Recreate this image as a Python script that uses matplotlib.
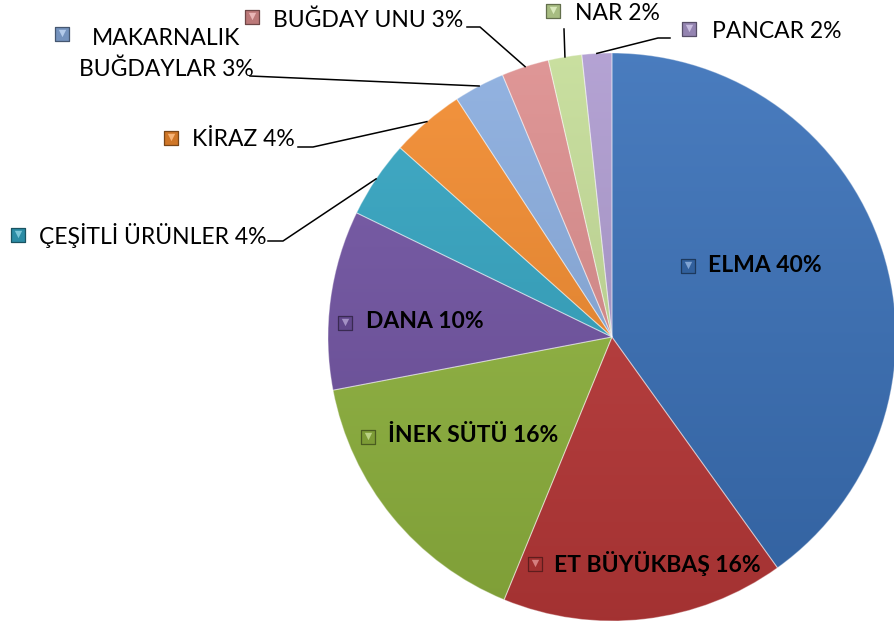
import numpy as np
import matplotlib
matplotlib.use("Agg")
import matplotlib.pyplot as plt
from matplotlib.colors import to_rgb

categories = ["ELMA", "ET BÜYÜKBAŞ", "İNEK SÜTÜ", "DANA", "ÇEŞİTLİ ÜRÜNLER",
              "KİRAZ", "MAKARNALIK\nBUĞDAYLAR", "BUĞDAY UNU", "NAR", "PANCAR"]
values = [40.1, 16.1, 15.8, 10.2, 4.4, 4.2, 2.9, 2.7, 1.9, 1.7]
colors = ["#3A71B9", "#BE3A3A", "#93B840", "#7254A4", "#33A5C2",
          "#F38B2E", "#8AADDF", "#DD8E8E", "#C5DD98", "#AE9BD0"]

W, H = 895, 631
fig = plt.figure(figsize=(W / 100, H / 100), dpi=100)
ax = fig.add_axes([0, 0, 1, 1])

cx, cy, R = 612, H - 337, 284
wedges, _ = ax.pie(values, colors=colors, startangle=90, counterclock=False,
                   radius=R, center=(cx, cy), frame=True,
                   wedgeprops=dict(edgecolor=(1, 1, 1, 0.35), linewidth=0.8))
ax.set_xlim(0, W)
ax.set_ylim(0, H)
ax.set_aspect("equal")
ax.axis("off")


def shade(c, f):
    r = np.array(to_rgb(c))
    if f >= 0:
        return tuple(r + (1 - r) * f)
    return tuple(r * (1 + f))


# gradient fill clipped to each wedge
yy = np.linspace(0, 1, 200)[:, None]
for w, c in zip(wedges, colors):
    top = np.array(shade(c, 0.08))
    bot = np.array(shade(c, -0.14))
    img = top[None, None, :] * (1 - yy[..., None]) + bot[None, None, :] * yy[..., None]
    img = np.repeat(img, 2, axis=1)
    im = ax.imshow(img, extent=(cx - R, cx + R, cy - R, cy + R), origin="upper",
                   zorder=1.5, aspect="auto")
    im.set_clip_path(w)
    w.set_zorder(2)
    w.set_facecolor("none")

total = sum(values)
pcts = [f"{round(v / total * 100):.0f}%" for v in values]
labels = [f"{c} {p}" for c, p in zip(categories, pcts)]

FONT = "Lato"


def marker(x, y, c):
    ax.scatter([x], [H - y], s=90, marker="s", color=shade(c, -0.15),
               edgecolors=shade(c, -0.5), linewidths=0.9, zorder=5)
    ax.scatter([x], [H - y + 1.5], s=28, marker="v", color=shade(c, 0.35),
               linewidths=0, zorder=5.1)


# inside labels (bold): (marker x, y, text x)
inside = {0: (688, 266, 708), 1: (535, 564, 554), 2: (368, 437, 388), 3: (345, 323, 366)}
for i, (mx, my, tx) in inside.items():
    marker(mx, my, colors[i])
    ax.text(tx, H - my + 1, labels[i], fontsize=16.5, fontweight="bold", family=FONT,
            va="center", ha="left", zorder=6)

# outside labels: marker, text position, leader line points (before edge point)
outside = {
    4: dict(m=(18, 235), t=(39, 235), pts=[(268, 241), (283, 241)]),
    5: dict(m=(171, 138), t=(192, 140), pts=[(298, 147), (313, 147)]),
    6: dict(m=(62, 34), t=(166, 54), pts=[(250, 76)]),
    7: dict(m=(252, 17), t=(273, 20), pts=[(467, 27), (480, 27)]),
    8: dict(m=(553, 11), t=(575, 13), pts=[(564, 29)]),
    9: dict(m=(689, 29), t=(712, 31), pts=[(670, 38), (658, 38)]),
}
cum = np.cumsum([0] + values)
for i, d in outside.items():
    mid = (cum[i] + cum[i + 1]) / 2 / total * 2 * np.pi
    ex = cx + R * np.sin(mid)
    ey = cy + R * np.cos(mid)
    pts = [(p[0], H - p[1]) for p in d["pts"]] + [(ex, ey)]
    xs, ys = zip(*pts)
    ax.plot(xs, ys, color="black", lw=1.1, zorder=4)
    marker(d["m"][0], d["m"][1], colors[i])
    if i == 6:
        ax.text(d["t"][0], H - d["t"][1], labels[i], fontsize=16.5, family=FONT,
                va="center", ha="center", linespacing=1.55, zorder=6)
    else:
        ax.text(d["t"][0], H - d["t"][1], labels[i], fontsize=16.5, family=FONT,
                va="center", ha="left", zorder=6)

fig.savefig("out.png", dpi=100)
